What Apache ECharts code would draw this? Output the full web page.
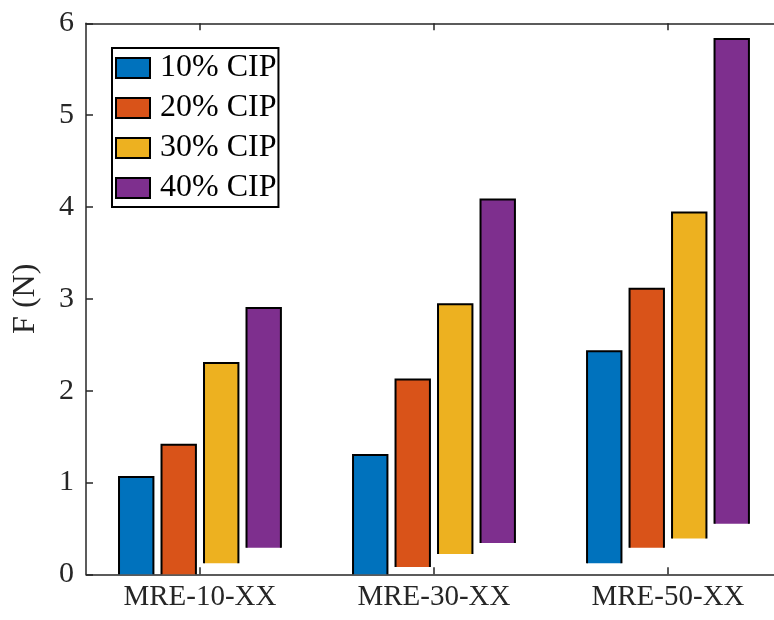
<!DOCTYPE html>
<html>
<head>
<meta charset="utf-8">
<script src="https://cdn.jsdelivr.net/npm/echarts@6/dist/echarts.min.js"></script>
<style>html,body{margin:0;padding:0;background:#fff;overflow:hidden;}#c{width:774px;height:620px;overflow:hidden;}</style>
</head>
<body>
<div id="c"></div>
<script>
// ---- data ----
const categories = ['MRE-10-XX', 'MRE-30-XX', 'MRE-50-XX'];
const seriesNames = ['10% CIP', '20% CIP', '30% CIP', '40% CIP'];
const cip10Low  = [0.00, 0.00, 0.12];
const cip10High = [1.06, 1.30, 2.43];
const cip20Low  = [0.00, 0.08, 0.29];
const cip20High = [1.41, 2.12, 3.11];
const cip30Low  = [0.12, 0.22, 0.39];
const cip30High = [2.30, 2.94, 3.94];
const cip40Low  = [0.29, 0.34, 0.55];
const cip40High = [2.90, 4.08, 5.83];
const yTicks = [0, 1, 2, 3, 4, 5, 6];

const lows = [cip10Low, cip20Low, cip30Low, cip40Low];
const highs = [cip10High, cip20High, cip30High, cip40High];
const colors = ['#0072BD', '#D95319', '#EDB120', '#7E2F8E'];
const catPos = categories.map((c, i) => i + 1);
const step = 0.1816, halfW = 0.0735;
const offsets = [-1.5, -0.5, 0.5, 1.5].map(m => m * step);
const font = 'Liberation Serif, Times New Roman, serif';
const axisColor = '#262626';

function makeRender(k) {
  return function (params, api) {
    const xc = api.value(0) + offsets[k];
    const lo = api.value(1), hi = api.value(2);
    const p1 = api.coord([xc - halfW, hi]);
    const p2 = api.coord([xc + halfW, lo]);
    return {
      type: 'group',
      children: [
        { type: 'rect', shape: { x: p1[0], y: p1[1], width: p2[0] - p1[0], height: p2[1] - p1[1] },
          style: { fill: colors[k] } },
        { type: 'polyline', shape: { points: [[p1[0], p2[1]], [p1[0], p1[1]], [p2[0], p1[1]], [p2[0], p2[1]]] },
          style: { stroke: '#000', lineWidth: 2, fill: null } }
      ]
    };
  };
}

const series = seriesNames.map((name, k) => ({
  name: name,
  type: 'custom',
  renderItem: makeRender(k),
  itemStyle: { color: colors[k] },
  encode: { x: 0, y: [1, 2] },
  data: catPos.map((x, i) => [x, lows[k][i], highs[k][i]]),
  clip: false,
  z: 2
}));

const xCommon = {
  type: 'value', min: 0.513, max: 3.453,
  axisLine: { show: true, onZero: false, lineStyle: { color: axisColor, width: 1.5 } },
  axisTick: { show: true, inside: true, length: 7, customValues: catPos, lineStyle: { color: axisColor, width: 1.5 } },
  splitLine: { show: false }
};

const chart = echarts.init(document.getElementById('c'), null, { renderer: 'canvas' });
chart.setOption({
  animation: false,
  backgroundColor: '#fff',
  grid: { left: 86, top: 23.3, width: 688, height: 551, containLabel: false, outerBoundsMode: 'none', show: false },
  xAxis: [
    Object.assign({}, xCommon, {
      position: 'bottom',
      axisLabel: { show: true, customValues: catPos, margin: 9, color: axisColor, fontFamily: font, fontSize: 29,
        formatter: v => categories[Math.round(v) - 1] }
    }),
    Object.assign({}, xCommon, { position: 'top', axisLabel: { show: false } })
  ],
  yAxis: {
    type: 'value', min: 0, max: 6, interval: 1, position: 'left',
    name: 'F (N)', nameLocation: 'middle', nameGap: 44,
    nameTextStyle: { color: axisColor, fontFamily: font, fontSize: 32 },
    axisLine: { show: true, onZero: false, lineStyle: { color: axisColor, width: 1.5 } },
    axisTick: { show: true, inside: true, length: 7, lineStyle: { color: axisColor, width: 1.5 } },
    axisLabel: { margin: 12, color: axisColor, fontFamily: font, fontSize: 30,
      formatter: v => yTicks.indexOf(v) >= 0 ? String(v) : '' },
    splitLine: { show: false }
  },
  legend: {
    left: 112, top: 48, orient: 'vertical',
    padding: [4, 2, 3, 3],
    itemWidth: 34, itemHeight: 20, itemGap: 8,
    backgroundColor: '#fff', borderColor: '#000', borderWidth: 2, borderRadius: 0,
    textStyle: { color: '#000', fontFamily: font, fontSize: 32, padding: [0, 0, 0, 5] },
    data: seriesNames.map((n, k) => ({ name: n, icon: 'rect',
      itemStyle: { color: colors[k], borderColor: '#000', borderWidth: 2 } })),
    selectedMode: false
  },
  series: series
});
</script>
</body>
</html>
